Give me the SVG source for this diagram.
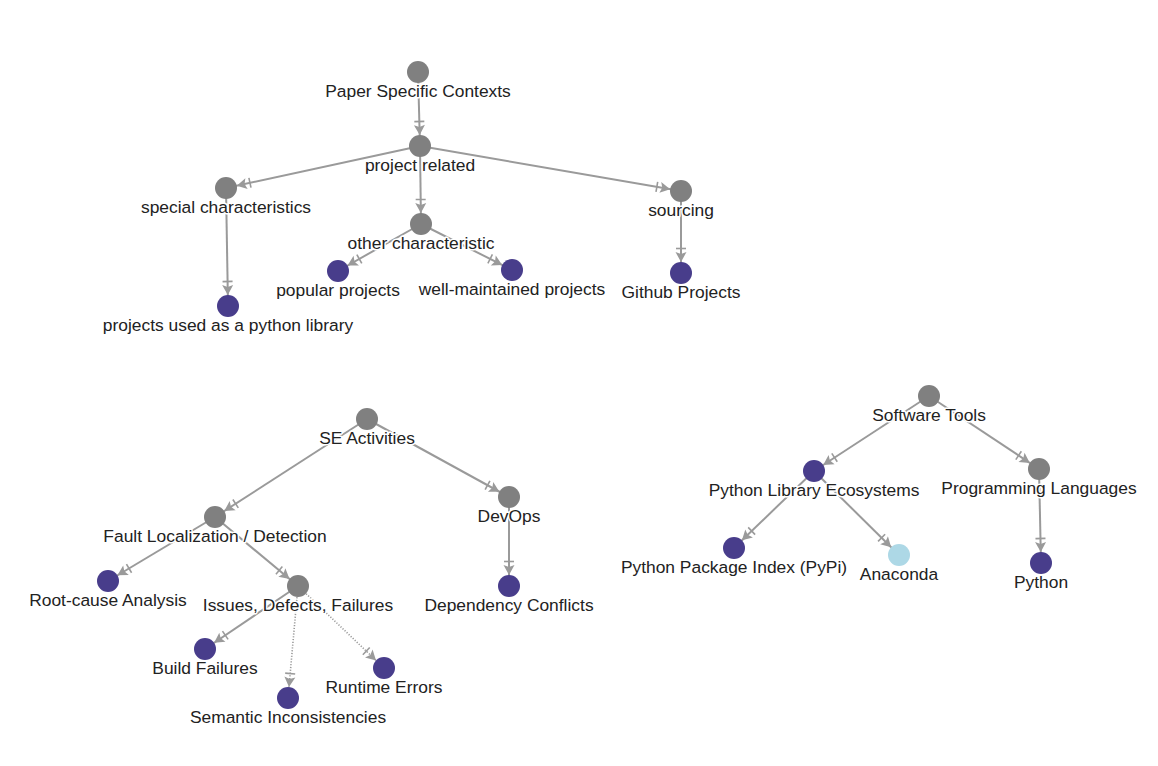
<svg xmlns="http://www.w3.org/2000/svg" width="1158" height="766" viewBox="0 0 1158 766">
<style>
.e{stroke:#9a9a9a;stroke-width:2;fill:none;marker-end:url(#arr)}
.d{stroke:#9a9a9a;stroke-width:1.6;stroke-dasharray:1.2 1.6;fill:none;marker-end:url(#arr)}
.g{fill:#808080}
.p{fill:#483d8b}
.b{fill:#add8e6}
text{font-family:"Liberation Sans",Arial,sans-serif;font-size:17.4px;fill:#222;text-anchor:middle;stroke:#fff;stroke-width:3px;paint-order:stroke;stroke-linejoin:round}
</style>
<defs>
<marker id="arr" viewBox="-20 -7 32 14" refX="11" refY="0" markerWidth="32" markerHeight="14" markerUnits="userSpaceOnUse" orient="auto">
<path d="M0,0 L-10,-5.5 L-8,0 L-10,5.5 Z" fill="#9a9a9a"/>
<path d="M-13.5,-5 L-13.5,5" stroke="#9a9a9a" stroke-width="1.6"/>
</marker>
</defs>
<rect width="1158" height="766" fill="#fff"/>
<g id="connectors">
<line class="e" x1="418" y1="72" x2="420" y2="146"/>
<line class="e" x1="420" y1="146" x2="226" y2="188"/>
<line class="e" x1="420" y1="146" x2="421" y2="224"/>
<line class="e" x1="420" y1="146" x2="681" y2="191"/>
<line class="e" x1="226" y1="188" x2="228" y2="306"/>
<line class="e" x1="421" y1="224" x2="338" y2="271"/>
<line class="e" x1="421" y1="224" x2="512" y2="270"/>
<line class="e" x1="681" y1="191" x2="681" y2="273"/>
<line class="e" x1="367" y1="419" x2="215" y2="517"/>
<line class="e" x1="367" y1="419" x2="509" y2="497"/>
<line class="e" x1="215" y1="517" x2="108" y2="581"/>
<line class="e" x1="215" y1="517" x2="298" y2="586"/>
<line class="e" x1="509" y1="497" x2="509" y2="586"/>
<line class="e" x1="298" y1="586" x2="205" y2="649"/>
<line class="d" x1="298" y1="586" x2="288" y2="698"/>
<line class="d" x1="298" y1="586" x2="384" y2="668"/>
<line class="e" x1="929" y1="396" x2="814" y2="471"/>
<line class="e" x1="929" y1="396" x2="1039" y2="469"/>
<line class="e" x1="814" y1="471" x2="734" y2="548"/>
<line class="e" x1="814" y1="471" x2="899" y2="555"/>
<line class="e" x1="1039" y1="469" x2="1041" y2="563"/>
</g>
<g id="n-paper"><circle class="g" cx="418" cy="72" r="11"/><text x="418" y="97">Paper Specific Contexts</text></g>
<g id="n-project"><circle class="g" cx="420" cy="146" r="11"/><text x="420" y="171">project related</text></g>
<g id="n-special"><circle class="g" cx="226" cy="188" r="11"/><text x="226" y="213">special characteristics</text></g>
<g id="n-other"><circle class="g" cx="421" cy="224" r="11"/><text x="421" y="249">other characteristic</text></g>
<g id="n-sourcing"><circle class="g" cx="681" cy="191" r="11"/><text x="681" y="216">sourcing</text></g>
<g id="n-pylib"><circle class="p" cx="228" cy="306" r="11"/><text x="228" y="331">projects used as a python library</text></g>
<g id="n-popular"><circle class="p" cx="338" cy="271" r="11"/><text x="338" y="296">popular projects</text></g>
<g id="n-wellm"><circle class="p" cx="512" cy="270" r="11"/><text x="512" y="295">well-maintained projects</text></g>
<g id="n-github"><circle class="p" cx="681" cy="273" r="11"/><text x="681" y="298">Github Projects</text></g>
<g id="n-se"><circle class="g" cx="367" cy="419" r="11"/><text x="367" y="444">SE Activities</text></g>
<g id="n-fault"><circle class="g" cx="215" cy="517" r="11"/><text x="215" y="542">Fault Localization / Detection</text></g>
<g id="n-devops"><circle class="g" cx="509" cy="497" r="11"/><text x="509" y="522">DevOps</text></g>
<g id="n-root"><circle class="p" cx="108" cy="581" r="11"/><text x="108" y="606">Root-cause Analysis</text></g>
<g id="n-issues"><circle class="g" cx="298" cy="586" r="11"/><text x="298" y="611">Issues, Defects, Failures</text></g>
<g id="n-dep"><circle class="p" cx="509" cy="586" r="11"/><text x="509" y="611">Dependency Conflicts</text></g>
<g id="n-build"><circle class="p" cx="205" cy="649" r="11"/><text x="205" y="674">Build Failures</text></g>
<g id="n-semantic"><circle class="p" cx="288" cy="698" r="11"/><text x="288" y="723">Semantic Inconsistencies</text></g>
<g id="n-runtime"><circle class="p" cx="384" cy="668" r="11"/><text x="384" y="693">Runtime Errors</text></g>
<g id="n-tools"><circle class="g" cx="929" cy="396" r="11"/><text x="929" y="421">Software Tools</text></g>
<g id="n-ecosys"><circle class="p" cx="814" cy="471" r="11"/><text x="814" y="496">Python Library Ecosystems</text></g>
<g id="n-lang"><circle class="g" cx="1039" cy="469" r="11"/><text x="1039" y="494">Programming Languages</text></g>
<g id="n-pypi"><circle class="p" cx="734" cy="548" r="11"/><text x="734" y="573">Python Package Index (PyPi)</text></g>
<g id="n-anaconda"><circle class="b" cx="899" cy="555" r="11"/><text x="899" y="580">Anaconda</text></g>
<g id="n-python"><circle class="p" cx="1041" cy="563" r="11"/><text x="1041" y="588">Python</text></g>
</svg>
